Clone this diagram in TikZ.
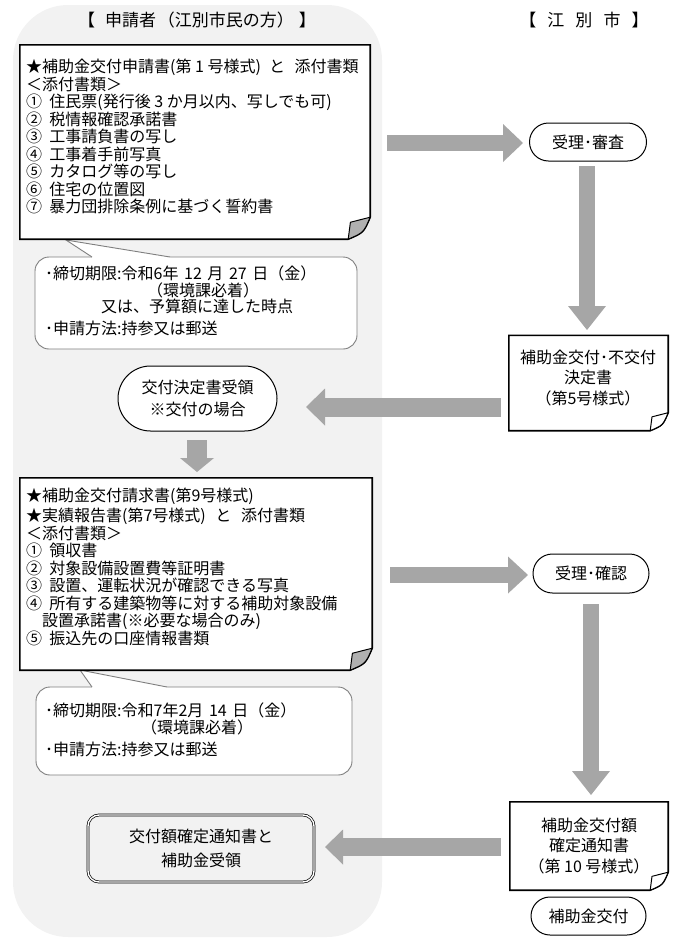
\documentclass[tikz,border=0pt]{standalone}
\usepackage{fontspec}
\setmainfont{Noto Sans CJK JP}
\usetikzlibrary{arrows.meta,shapes.misc}
\definecolor{bggray}{HTML}{F2F2F2}
\definecolor{arrgray}{HTML}{A6A6A6}
\definecolor{callgray}{HTML}{7F7F7F}
\definecolor{flapgray}{HTML}{B0B0B0}
\newcommand\docoutline[3]{%
  \filldraw[docline, fill=white] (#1.north west) -- (#1.north east) -- ([yshift=#2]#1.south east)
    .. controls ([xshift=-0.3*#2, yshift=0.3*#2]#1.south east) .. ([xshift=-#2]#1.south east)
    -- (#1.south west) -- cycle;
  \filldraw[flapline, fill=#3] ([xshift=-#2]#1.south east) -- ([xshift=-0.9*#2, yshift=0.77*#2]#1.south east)
    -- ([yshift=#2]#1.south east) .. controls ([xshift=-0.3*#2, yshift=0.3*#2]#1.south east) .. ([xshift=-#2]#1.south east) -- cycle;
}
\newcommand\calloutptr[3]{%
  \fill[white] (#1) -- (#2) -- ([yshift=-1.5pt]#2) -- ([yshift=-1.5pt]#3) -- (#3) -- cycle;
  \draw[callline] (#2) -- (#1) -- (#3);
}
\newcommand\cnum[1]{#1\hspace{0.45em}}
\begin{document}
\begin{tikzpicture}[x=1pt,y=-1pt,
  docline/.style={draw=black, line width=1.6pt, line join=miter},
  flapline/.style={draw=black, line width=1pt, line join=round},
  docnode/.style={inner sep=0pt, draw=none},
  boxtxt/.style={font=\fontsize{16}{17.5}\selectfont, align=left, inner sep=0pt},
  txt/.style={font=\fontsize{16}{17.5}\selectfont, inner sep=0pt},
  ctxt/.style={font=\fontsize{16}{20.5}\selectfont, align=center, inner sep=0pt},
  headtxt/.style={font=\fontsize{17}{18}\selectfont, inner sep=0pt},
  callline/.style={draw=callgray, line width=0.9pt},
  callout/.style={callline, fill=white, rounded corners=14pt, inner sep=0pt},
  stadium/.style={rounded rectangle, draw=black, line width=1pt, fill=white, inner sep=0pt,
    font=\fontsize{16}{21}\selectfont, align=center},
  dblbox/.style={draw=black, double=white, double distance=1.4pt, line width=0.7pt,
    rounded corners=11pt, inner sep=0pt, font=\fontsize{16}{24}\selectfont, align=center},
  barrow/.style args={#1/#2/#3}{draw=arrgray, line width=#1,
    -{Triangle[width=#2, length=#3, line width=0pt]}}
]
\useasboundingbox (0,0) rectangle (691,943);
% background column
\fill[bggray, rounded corners=55pt] (13,5) rectangle (382,937);

% headers
\node[headtxt] (h1) at (197,20) {【\hspace{0.6em}申請者\hspace{0.1em}（江別市民の方）\hspace{0.3em}】};
\node[headtxt] (h2) at (584,20) {【\hspace{0.65em}江\hspace{0.65em}別\hspace{0.65em}市\hspace{0.65em}】};

% callout 1
\node[callout, minimum width=322pt, minimum height=92pt] (c1) at (196,303) {};
\coordinate (c1tip) at (66,240);
\coordinate (c1ba) at (92,257);
\coordinate (c1bb) at (170,257);
\calloutptr{c1tip}{c1ba}{c1bb}
\node[txt, anchor=west] (c1a) at (45,273) {･締切期限:令和6年\hspace{0.35em}12\hspace{0.35em}月\hspace{0.35em}27\hspace{0.35em}日（金）};
\node[txt] (c1b) at (203,290) {（環境課必着）};
\node[txt] (c1c) at (197,306) {又は、予算額に達した時点};
\node[txt, anchor=west] (c1d) at (45,328) {･申請方法:持参又は郵送};

% box 1
\node[docnode, minimum width=350pt, minimum height=194pt] (b1) at (195,142) {};
\docoutline{b1}{22pt}{flapgray}
\node[boxtxt, anchor=north west] (b1t) at (26,59) {★補助金交付申請書(第 1 号様式)\hspace{0.5em}と\hspace{0.6em}添付書類\\
＜添付書類＞\\
\cnum{①}住民票(発行後 3 か月以内、写しでも可)\\
\cnum{②}税情報確認承諾書\\
\cnum{③}工事請負書の写し\\
\cnum{④}工事着手前写真\\
\cnum{⑤}カタログ等の写し\\
\cnum{⑥}住宅の位置図\\
\cnum{⑦}暴力団排除条例に基づく誓約書};

% right column 1
\node[stadium, minimum width=117pt, minimum height=38pt] (r1) at (588,142) {受理･審査};
\node[docnode, minimum width=159pt, minimum height=95pt] (r2) at (588.5,383) {};
\docoutline{r2}{18pt}{white}
\node[ctxt] (r2t) at (588,378) {補助金交付･不交付\\決定書\\（第5号様式）};

\node[stadium, minimum width=159pt, minimum height=65pt, font=\fontsize{16}{22}\selectfont] (l1) at (197.5,398.5) {交付決定書受領\\※交付の場合};

% callout 2
\node[callout, minimum width=316pt, minimum height=88pt] (c2) at (194,731) {};
\coordinate (c2tip) at (80,670);
\coordinate (c2ba) at (92,687);
\coordinate (c2bb) at (167,687);
\calloutptr{c2tip}{c2ba}{c2bb}
\node[txt, anchor=west] (c2a) at (45,710) {･締切期限:令和7年2月\hspace{0.35em}14\hspace{0.35em}日（金）};
\node[txt] (c2b) at (197,727) {（環境課必着）};
\node[txt, anchor=west] (c2d) at (45,749) {･申請方法:持参又は郵送};

% box 2
\node[docnode, minimum width=352pt, minimum height=192pt] (b2) at (196,574) {};
\docoutline{b2}{22pt}{flapgray}
\node[boxtxt, anchor=north west] (b2t) at (26,488) {★補助金交付請求書(第9号様式)\\[2.5pt]
★実績報告書(第7号様式)\hspace{0.6em}と\hspace{0.6em}添付書類\\
＜添付書類＞\\
\cnum{①}領収書\\
\cnum{②}対象設備設置費等証明書\\
\cnum{③}設置、運転状況が確認できる写真\\
\cnum{④}所有する建築物等に対する補助対象設備\\
\hspace{1em}設置承諾書(※必要な場合のみ)\\
\cnum{⑤}振込先の口座情報書類};

% right column 2
\node[stadium, minimum width=116pt, minimum height=39pt] (r3) at (591,573.5) {受理･確認};
\node[docnode, minimum width=158pt, minimum height=88pt] (r4) at (589,846) {};
\docoutline{r4}{18pt}{white}
\node[ctxt] (r4t) at (589,846) {補助金交付額\\確定通知書\\（第 10 号様式）};
\node[stadium, minimum width=115pt, minimum height=38pt] (r5) at (588.5,916) {補助金交付};

\node[dblbox, minimum width=226pt, minimum height=67pt] (l2) at (201,848.5) {交付額確定通知書と\\補助金受領};

% block arrows
\coordinate (a1s) at (387,143); \coordinate (a1e) at (523,143);
\coordinate (a2s) at (587,166); \coordinate (a2e) at (587,330);
\coordinate (a3s) at (501,407); \coordinate (a3e) at (306,407);
\coordinate (a4s) at (197,440); \coordinate (a4e) at (197,472);
\coordinate (a5s) at (390,575); \coordinate (a5e) at (528,575);
\coordinate (a6s) at (591,604); \coordinate (a6e) at (591,795);
\coordinate (a7s) at (501,847); \coordinate (a7e) at (325,847);
\draw[barrow=16pt/38pt/20pt] (a1s) -- (a1e);
\draw[barrow=16pt/38pt/24pt] (a2s) -- (a2e);
\draw[barrow=19pt/37pt/19pt] (a3s) -- (a3e);
\draw[barrow=20pt/34pt/14pt] (a4s) -- (a4e);
\draw[barrow=16pt/37pt/20pt] (a5s) -- (a5e);
\draw[barrow=16pt/38pt/24pt] (a6s) -- (a6e);
\draw[barrow=18pt/35pt/18pt] (a7s) -- (a7e);
\end{tikzpicture}
\end{document}
